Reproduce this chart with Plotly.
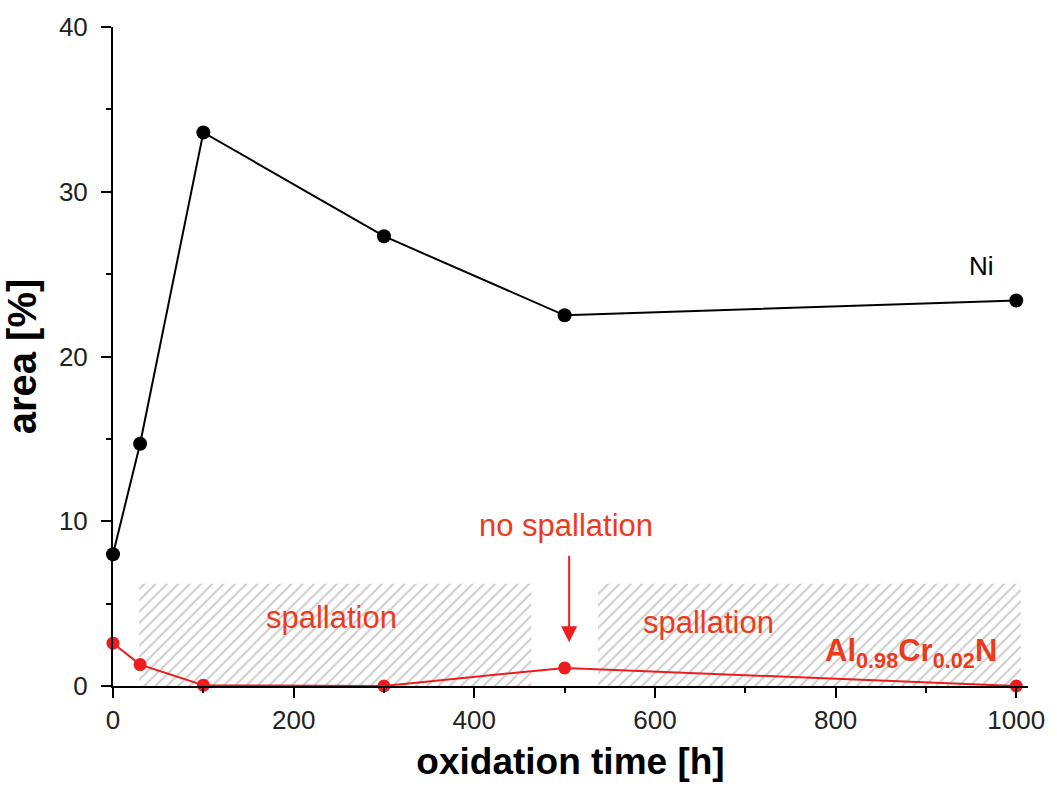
import plotly.graph_objects as go

# oxidation times [h]
times = [0, 30, 100, 300, 500, 1000]
# oxidised area [%]
ni_area = [8.0, 14.7, 33.6, 27.3, 22.5, 23.4]
alcrn_area = [2.6, 1.3, 0.05, 0.0, 1.1, 0.0]

# intervals where spallation was observed (start, end) and band height
spall_intervals = [(29, 463), (537, 1005)]
spall_height = 6.2

RED = "#ee1c1c"
TXT_RED = "#ee3a1c"
FONT = "Liberation Sans, Arial, sans-serif"

fig = go.Figure()

for x0, x1 in spall_intervals:
    fig.add_trace(go.Scatter(
        x=[x0, x1, x1, x0, x0],
        y=[0, 0, spall_height, spall_height, 0],
        mode="lines", line=dict(width=0), fill="toself",
        fillcolor="rgba(0,0,0,0)",
        fillpattern=dict(shape="/", fgcolor="#9a9a9a", bgcolor="white",
                         size=8, solidity=0.25),
        hoverinfo="skip", showlegend=False,
    ))

fig.add_trace(go.Scatter(
    x=times, y=ni_area, mode="lines+markers",
    line=dict(color="black", width=2),
    marker=dict(color="black", size=14),
    cliponaxis=False, showlegend=False,
))
fig.add_trace(go.Scatter(
    x=times, y=alcrn_area, mode="lines+markers",
    line=dict(color=RED, width=2),
    marker=dict(color=RED, size=13),
    cliponaxis=False, showlegend=False,
))

fig.add_annotation(x=242, y=4.15, text="spallation", showarrow=False,
                   font=dict(family=FONT, size=31, color=TXT_RED))
fig.add_annotation(x=659, y=3.85, text="spallation", showarrow=False,
                   font=dict(family=FONT, size=31, color=TXT_RED))
fig.add_annotation(x=502, y=9.75, text="no spallation", showarrow=False,
                   font=dict(family=FONT, size=31, color=TXT_RED))
fig.add_annotation(x=505, y=2.65, ax=505, ay=8.0, axref="x", ayref="y",
                   text="", showarrow=True, arrowhead=2, arrowsize=1.6,
                   arrowwidth=2, arrowcolor=RED)
fig.add_annotation(x=962, y=25.5, text="Ni", showarrow=False,
                   font=dict(family=FONT, size=26, color="black"))
fig.add_annotation(x=884, y=2.0,
                   text="<b>Al<sub>0.98</sub>Cr<sub>0.02</sub>N</b>",
                   showarrow=False,
                   font=dict(family=FONT, size=31, color=TXT_RED))

axis_common = dict(
    showline=True, linecolor="black", linewidth=2, showgrid=False,
    zeroline=False, ticks="outside", ticklen=10, tickwidth=2,
    tickcolor="black", mirror=False,
    tickfont=dict(family=FONT, size=26, color="#222222"),
)

fig.update_xaxes(
    range=[0, 1013], tickvals=[0, 200, 400, 600, 800, 1000],
    minor=dict(dtick=100, tick0=0, ticks="outside", ticklen=5,
               tickwidth=2, tickcolor="black"),
    title=dict(text="<b>oxidation time [h]</b>", standoff=14,
               font=dict(family=FONT, size=37, color="black")),
    **axis_common,
)
fig.update_yaxes(
    range=[0, 40], tickvals=[0, 10, 20, 30, 40],
    minor=dict(dtick=5, tick0=0, ticks="outside", ticklen=5,
               tickwidth=2, tickcolor="black"),
    ticklabelstandoff=8,
    title=dict(text="<b>area [%]</b>", standoff=10,
               font=dict(family=FONT, size=40, color="black")),
    **axis_common,
)

fig.update_layout(
    width=1057, height=794,
    margin=dict(l=113, r=25, t=22, b=108),
    plot_bgcolor="white", paper_bgcolor="white",
)

fig.write_html("out.html")
